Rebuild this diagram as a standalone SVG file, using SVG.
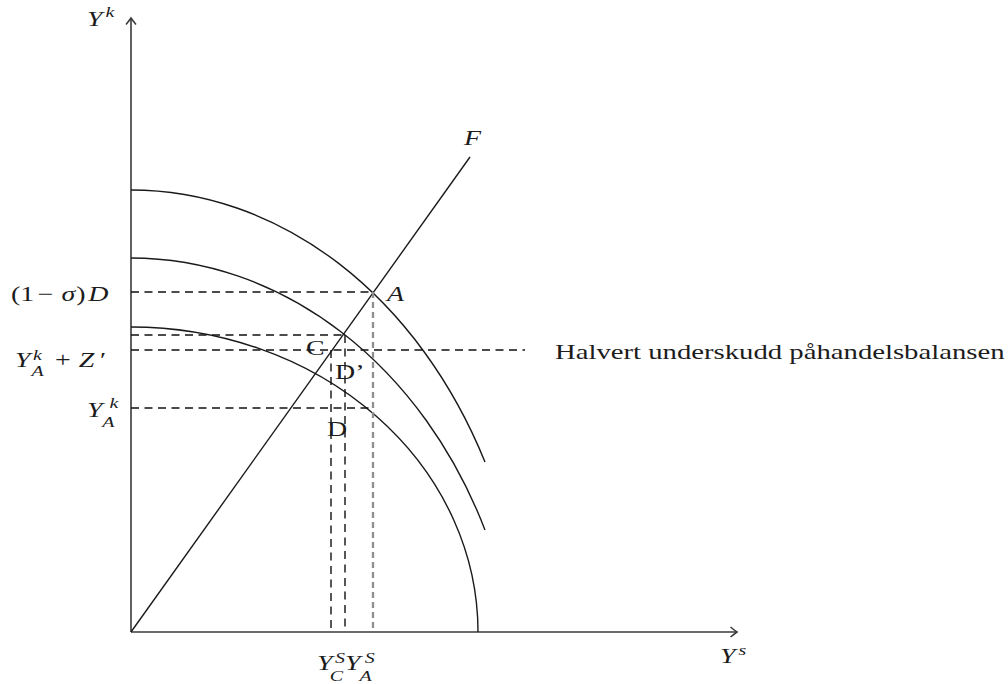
<svg xmlns="http://www.w3.org/2000/svg" width="1008" height="684" viewBox="0 0 1008 684">
<defs>
<style>
.ax{fill:none;stroke:#3a3a3a;stroke-width:1.6}
.cv{fill:none;stroke:#1a1a1a;stroke-width:1.4}
.dh{fill:none;stroke:#111111;stroke-width:1.4;stroke-dasharray:8 5.5}
.dg{fill:none;stroke:#8f8f8f;stroke-width:2.3;stroke-dasharray:6 4}
text{font-family:"Liberation Serif","Times New Roman",serif;font-size:21px;fill:#1c1c1c}
.i{font-style:italic}
.s{font-size:15px}
</style>
<marker id="arr" viewBox="-8 -6 10 12" refX="0" refY="0" markerWidth="10" markerHeight="12" markerUnits="userSpaceOnUse" orient="auto">
<path d="M-6.5,-5 Q-2,-1.3 0,0 Q-2,1.3 -6.5,5" fill="none" stroke="#3a3a3a" stroke-width="1.5"/>
</marker>
</defs>
<rect width="1008" height="684" fill="#ffffff"/>

<g id="axes">
<path class="ax" d="M131 632 V18" marker-end="url(#arr)"/>
<path class="ax" d="M131 632 H737" marker-end="url(#arr)"/>
</g>

<g id="curves">
<path id="outer" class="cv" d="M131 190 A397 497 0 0 1 485 462"/>
<path id="middle" class="cv" d="M131 258 A390 467 0 0 1 485 530"/>
<path id="inner" class="cv" d="M131 327 A347 305 0 0 1 478 632"/>
<path id="lineF" class="cv" d="M131 632 L470 157"/>
</g>

<g id="guides">
<path class="dh" d="M131 292 H373"/>
<path class="dh" d="M131 335 H344"/>
<path class="dh" d="M131 350 H525"/>
<path class="dh" d="M131 408 H373"/>
<path class="dh" d="M345 335 V632"/>
<path class="dh" d="M331 350 V632"/>
<path class="dg" d="M373 292 V632"/>
</g>

<g id="labels">
<text transform="matrix(1.33 0 0 1 87 26)"><tspan class="i" x="0" y="0">Y</tspan><tspan class="i s" x="14" y="-9">k</tspan></text>
<text transform="matrix(1.33 0 0 1 464 145)" class="i">F</text>
<text transform="matrix(1.33 0 0 1 387 301)" class="i">A</text>
<text transform="matrix(1.33 0 0 1 306 355)">C</text>
<text transform="matrix(1.33 0 0 1 335 379)">D’</text>
<text transform="matrix(1.33 0 0 1 327 436)">D</text>
<text transform="matrix(1.33 0 0 1 11 301)"><tspan x="0" y="0">(1</tspan><tspan x="20" y="0">−</tspan><tspan class="i" x="38" y="0">σ</tspan><tspan x="49" y="0">)</tspan><tspan class="i" x="58" y="0">D</tspan></text>
<text transform="matrix(1.33 0 0 1 15 367)"><tspan class="i" x="0" y="0">Y</tspan><tspan class="i s" x="13.5" y="-7">k</tspan><tspan class="i s" x="12.5" y="9">A</tspan><tspan x="30" y="0">+</tspan><tspan class="i" x="48" y="0">Z</tspan><tspan x="64" y="0">′</tspan></text>
<text transform="matrix(1.33 0 0 1 87 417)"><tspan class="i" x="0" y="0">Y</tspan><tspan class="i s" x="17" y="-9">k</tspan><tspan class="i s" x="11.5" y="10">A</tspan></text>
<text transform="matrix(1.33 0 0 1 317 670)"><tspan class="i" x="0" y="0">Y</tspan><tspan class="i s" x="13.5" y="-7">S</tspan><tspan class="i s" x="9.5" y="11">C</tspan><tspan class="i" x="21" y="0">Y</tspan><tspan class="i s" x="36" y="-7">S</tspan><tspan class="i s" x="32" y="11">A</tspan></text>
<text transform="matrix(1.33 0 0 1 720 663)"><tspan class="i" x="0" y="0">Y</tspan><tspan class="i s" x="14" y="-8">s</tspan></text>
<text transform="matrix(1.33 0 0 1 555 359)" textLength="338" lengthAdjust="spacingAndGlyphs">Halvert underskudd påhandelsbalansen</text>
</g>
</svg>
